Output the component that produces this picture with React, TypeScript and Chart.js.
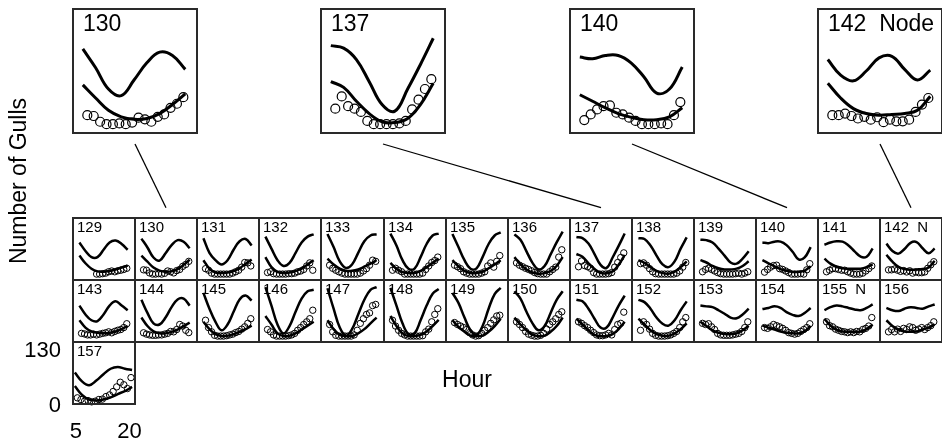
import React, { useEffect, useRef } from "react";
import { Chart, registerables } from "chart.js";

Chart.register(...registerables);

// ---------------- data ----------------
const HOURS = [5, 6, 7, 8, 9, 10, 11, 12, 13, 14, 15, 16, 17, 18, 19, 20];
const LINE_HOURS = [4.3, 6.3, 8.3, 10.3, 12.3, 14.3, 16.3, 18.3, 20.3];
const X_TICKS = [5, 20];
const Y_TICKS = [0, 130];

const PANEL_IDS = [
  129, 130, 131, 132, 133, 134, 135, 136, 137, 138, 139, 140, 141, 142,
  143, 144, 145, 146, 147, 148, 149, 150, 151, 152, 153, 154, 155, 156,
  157,
];
const NODE_PANELS = [142, 155];
const ENLARGED_PANELS = [130, 137, 140, 142];

// upper fitted curve per panel (at LINE_HOURS)
const UPPER_CURVES: number[][] = [
  [82, 60, 44, 44, 63, 82, 87, 78, 63],
  [92, 69, 43, 35, 54, 75, 88, 84, 67],
  [93, 55, 36, 25, 36, 63, 85, 91, 74],
  [97, 66, 36, 21, 29, 55, 82, 97, 103],
  [104, 70, 33, 16, 25, 55, 85, 100, 103],
  [105, 74, 36, 14, 14, 44, 78, 100, 105],
  [104, 70, 36, 14, 15, 44, 78, 100, 108],
  [103, 89, 59, 29, 12, 21, 51, 82, 110],
  [96, 93, 79, 52, 24, 16, 43, 73, 105],
  [93, 91, 74, 48, 25, 18, 33, 66, 95],
  [89, 88, 82, 66, 48, 30, 27, 40, 59],
  [82, 80, 84, 84, 75, 58, 38, 43, 70],
  [76, 82, 85, 84, 74, 59, 45, 45, 66],
  [79, 60, 53, 65, 81, 83, 67, 54, 66],
  [79, 56, 41, 39, 56, 79, 90, 79, 67],
  [94, 60, 33, 30, 48, 75, 95, 97, 79],
  [112, 71, 37, 15, 30, 63, 95, 105, 92],
  [127, 79, 30, 7, 26, 63, 97, 116, 120],
  [124, 71, 22, 1, 18, 56, 94, 120, 127],
  [125, 79, 33, 5, 7, 41, 79, 110, 122],
  [112, 86, 48, 15, 3, 26, 71, 109, 125],
  [116, 97, 63, 33, 15, 26, 60, 94, 116],
  [94, 90, 71, 45, 22, 22, 48, 79, 105],
  [94, 88, 71, 48, 32, 27, 41, 67, 90],
  [79, 77, 75, 67, 58, 48, 46, 56, 71],
  [70, 73, 77, 73, 62, 55, 52, 60, 73],
  [67, 75, 79, 77, 73, 69, 67, 73, 82],
  [73, 67, 65, 71, 75, 73, 71, 77, 82],
  [72, 51, 42, 53, 68, 81, 85, 81, 78],
];

// lower fitted curve per panel (at LINE_HOURS)
const LOWER_CURVES: number[][] = [
  [48, 28, 14, 7, 6, 8, 12, 17, 22],
  [48, 32, 17, 9, 6, 7, 13, 24, 37],
  [36, 14, 4, 2.5, 4, 8, 15, 27, 38],
  [44, 18, 6, 2.5, 4, 8, 14, 25, 36],
  [40, 25, 14, 8.5, 8.5, 12, 19, 27, 36],
  [29, 14, 5, 2.5, 2.5, 8, 18, 29, 40],
  [36, 20, 8, 2.5, 2.5, 6, 15, 25, 36],
  [44, 25, 12, 4, 1, 2.5, 8, 21, 44],
  [52, 45, 28, 13, 3, 2, 7, 24, 50],
  [36, 29, 18, 8, 2.5, 1, 6, 18, 33],
  [36, 30, 21, 15, 12, 12, 14, 21, 33],
  [36, 28, 20, 13, 8.5, 5.5, 5.5, 9, 20],
  [40, 27, 19, 15, 14, 14, 14, 18, 25],
  [50, 32, 19, 13, 11, 12, 13, 17, 34],
  [41, 22, 12, 8.5, 7, 8.5, 12, 18, 26],
  [48, 26, 12, 7, 7, 11, 17, 26, 35],
  [37, 18, 5, 0, 1, 5, 11, 18, 27],
  [52, 30, 7, 0, 1, 7, 17, 27, 37],
  [41, 18, 3, 0, 0, 7, 18, 33, 48],
  [52, 26, 7, 0, 0, 3, 12, 26, 42],
  [41, 24, 11, 1, 0, 1, 11, 26, 45],
  [48, 30, 15, 3, 0, 1, 11, 26, 48],
  [45, 30, 15, 3, 0, 0, 5, 18, 37],
  [45, 30, 15, 5, 1, 1, 7, 18, 33],
  [37, 26, 15, 8.5, 5.5, 5, 7, 15, 27],
  [27, 22, 17, 12, 8.5, 7, 7, 12, 26],
  [45, 27, 17, 12, 11, 11, 12, 18, 30],
  [41, 26, 17, 12, 11, 12, 17, 22, 30],
  [40, 19, 8, 5.5, 8, 13, 21, 28, 38],
];

// observed gull counts per panel (at HOURS)
const GULL_COUNTS: (number | null)[][] = [
  [null, null, null, null, null, 0, 0, 1, 2.5, 6, 8, 6, 8.5, 10, 12, 15],
  [11, 10, 3, 0, 0, 1, 0, 2, 8, 6, 3, 9, 12, 20, 25, 33],
  [14, 10, 2.5, 0, 0, 0, 0, 0, 0, 2.5, 6, 10, 18, 30, 29, 21],
  [4, 6, 1, 0, 0, 0, 0, 1, 1, 2.5, 6, 8, 12, 21, 29, 10],
  [23, 15, 10, 6, 2.5, 0, 0, 0, 0, 0, 2.5, 8, 14, 23, 36, 33],
  [10, 15, 10, 6, 0, 0, 0, 0, 0, 0, 2.5, 12, 21, 30, 35, 44],
  [23, 19, 14, 6, 2.5, 0, 0, 0, 0, 2.5, 6, 21, 29, 18, 33, 48],
  [29, 23, 19, 15, 12, 8.5, 4, 1, 0, 0, 0, 6, 12, 18, 44, 63],
  [19, 34, 22, 19, 15, 4, 0, 0, 0, 0, 1, 4, 18, 30, 43, 55],
  [27, 29, 23, 14, 6, 1, 0, 0, 0, 0, 0, 0, 2.5, 8, 18, 30],
  [6, 12, 15, 12, 8, 4, 1, 0, 0, 0, 0, 1, 2.5, 0, 2.5, 6],
  [5, 12, 18, 22, 23, 14, 12, 8, 4, 0, 0, 0, 1, 0, 11, 27],
  [6, 10, 14, 14, 12, 10, 10, 6, 2.5, 0, 0, 0, 2.5, 8, 14, 21],
  [11, 11, 13, 10, 7, 9, 5.5, 8.5, 2.5, 5.5, 3.5, 3.5, 5.5, 15, 24, 32],
  [7, 5.5, 3, 3, 5, 3, 5, 7, 8.5, 11, 8.5, 12, 15, 17, 22, 32],
  [8.5, 5, 3, 2, 2, 3, 3, 5, 7, 12, 11, 17, 30, 26, 15, 9],
  [41, 22, 11, 2, 0, 0, 0, 1, 3, 5, 9, 12, 18, 24, 33, 45],
  [17, 11, 3, 0, 0, 0, 0, 1, 3, 7, 15, 22, 30, 37, 45, 67],
  [30, 11, 2, 0, 0, 0, 0, 0, 3, 15, 33, 45, 56, 60, 79, 82],
  [41, 26, 15, 7, 3, 0, 0, 0, 0, 0, 1, 11, 18, 37, 56, 71],
  [35, 30, 26, 22, 17, 9, 3, 0, 1, 7, 15, 22, 33, 42, 52, 54],
  [37, 30, 22, 12, 5, 2, 0, 0, 2, 7, 18, 30, 37, 45, 56, 63],
  [37, 33, 27, 22, 15, 9, 3, 1, 1, 3, 7, 3, 17, 30, 33, 62],
  [15, 37, 30, 18, 7, 2, 0, 0, 0, 1, 3, 7, 12, 22, 37, 48],
  [33, 30, 32, 24, 17, 7, 3, 2, 2, 2, 3, 5, 7, 12, 22, 37],
  [22, 20, 24, 30, 27, 24, 20, 15, 9, 7, 5, 7, 12, 17, 22, 32],
  [37, 27, 24, 18, 15, 12, 11, 9, 11, 9, 12, 11, 17, 20, 26, 48],
  [11, 17, 11, 18, 12, 20, 17, 24, 22, 15, 18, 22, 17, 22, 27, 37],
  [12, 8, 4, 5.5, 2.5, 4, 8, 9, 15, 19, 27, 38, 49, 43, 34, 60],
];

// ---------------- layout / style ----------------
const FONT = '"Liberation Sans", Arial, Helvetica, sans-serif';
const X_MIN = 3.5;
const X_MAX = 21.4;
const Y_MIN = -5;
const Y_MAX = 135;

const GRID_LEFT = 72;
const GRID_TOP = 217;
const CELL = 62.1;
const COLS = 14;
const BIG_TOP = 8;
const BIG_SIZE = 126;
const BIG_STEP = CELL * 4;
const BORDER = 2;

const cellLeft = (c: number) => Math.round(GRID_LEFT + CELL * c);
const cellTop = (r: number) => Math.round(GRID_TOP + CELL * r);

type PanelProps = {
  index: number;
  left: number;
  top: number;
  width: number;
  height: number;
  big?: boolean;
  withAxes?: boolean;
};

function Panel({ index, left, top, width, height, big, withAxes }: PanelProps) {
  const ref = useRef<HTMLCanvasElement>(null);
  const axisLeft = withAxes ? left : 0;
  const axisBottom = withAxes ? 39 : 0;
  const extraRight = withAxes ? 30 : 0;
  const canvasLeft = withAxes ? 0 : left;
  const canvasW = axisLeft + width + extraRight;
  const canvasH = height + axisBottom;

  useEffect(() => {
    if (!ref.current) return;
    const lw = big ? 3 : 2.5;
    const r = big ? 4.5 : 3.2;
    const upper = LINE_HOURS.map((x, k) => ({ x, y: UPPER_CURVES[index][k] }));
    const lower = LINE_HOURS.map((x, k) => ({ x, y: LOWER_CURVES[index][k] }));
    const pts = HOURS.map((x, k) => ({ x, y: GULL_COUNTS[index][k] })).filter(
      (p) => p.y !== null
    );
    const lineDs = (data: any) => ({
      data,
      borderColor: "#000",
      borderWidth: lw,
      pointRadius: 0,
      tension: 0.4,
      fill: false,
      clip: false as any,
    });
    const hiddenScales: any = {
      x: { type: "linear", min: X_MIN, max: X_MAX, display: false },
      y: { type: "linear", min: Y_MIN, max: Y_MAX, display: false },
    };
    const axisScales: any = {
      x: {
        type: "linear",
        position: "bottom",
        min: X_MIN,
        max: X_MAX,
        afterBuildTicks: (s: any) => {
          s.ticks = X_TICKS.map((v) => ({ value: v }));
        },
        afterFit: (s: any) => {
          s.height = axisBottom;
          s.paddingLeft = 0;
          s.paddingRight = 0;
        },
        grid: { display: false, drawTicks: false },
        border: { display: false },
        ticks: {
          color: "#000",
          font: { family: FONT, size: 22 },
          padding: 14,
          labelOffset: -1.5,
          maxRotation: 0,
          autoSkip: false,
        },
      },
      y: {
        type: "linear",
        position: "left",
        min: Y_MIN,
        max: Y_MAX,
        afterBuildTicks: (s: any) => {
          s.ticks = Y_TICKS.map((v) => ({ value: v }));
        },
        afterFit: (s: any) => {
          s.width = axisLeft;
          s.paddingTop = 0;
          s.paddingBottom = 0;
        },
        grid: { display: false, drawTicks: false },
        border: { display: false },
        ticks: {
          color: "#000",
          font: { family: FONT, size: 22 },
          padding: 11,
          labelOffset: 3,
          autoSkip: false,
        },
      },
    };
    const chart = new Chart(ref.current, {
      type: "line",
      data: {
        datasets: [
          lineDs(upper),
          lineDs(lower),
          {
            data: pts as any,
            showLine: false,
            pointRadius: r,
            pointBorderWidth: big ? 1.2 : 1,
            pointBorderColor: "#000",
            pointBackgroundColor: "rgba(0,0,0,0)",
            clip: false as any,
          },
        ],
      },
      options: {
        animation: false,
        responsive: false,
        events: [],
        layout: { padding: { left: 0, top: 0, bottom: 0, right: extraRight } },
        plugins: { legend: { display: false }, tooltip: { enabled: false } },
        scales: withAxes ? axisScales : hiddenScales,
      },
    });
    return () => chart.destroy();
  }, [index, big, withAxes]);

  const id = PANEL_IDS[index];
  const label = NODE_PANELS.includes(id) ? `${id}  ${big ? "Node" : "N"}` : `${id}`;

  return (
    <>
      <canvas
        ref={ref}
        width={canvasW}
        height={canvasH}
        style={{ position: "absolute", left: canvasLeft, top, width: canvasW, height: canvasH }}
      />
      <div
        style={{
          position: "absolute",
          left,
          top,
          width,
          height,
          boxSizing: "border-box",
          border: `${BORDER}px solid #2a2a2a`,
          pointerEvents: "none",
        }}
      >
        <div
          style={{
            position: "absolute",
            left: big ? 9 : 3,
            top: big ? 2 : 0,
            fontFamily: FONT,
            fontSize: big ? 23 : 15,
            lineHeight: 1,
            whiteSpace: "pre",
            color: "#000",
          }}
        >
          {label}
        </div>
      </div>
    </>
  );
}

export default function App() {
  const small = PANEL_IDS.map((id, i) => {
    const c = i % COLS;
    const r = Math.floor(i / COLS);
    const left = cellLeft(c);
    const top = cellTop(r);
    const width = cellLeft(c + 1) - left + BORDER;
    const height = cellTop(r + 1) - top + BORDER;
    return { i, left, top, width, height, withAxes: id === 157 };
  });

  const bigs = ENLARGED_PANELS.map((id, j) => {
    const left = Math.round(GRID_LEFT + BIG_STEP * j);
    const i = PANEL_IDS.indexOf(id);
    const c = i % COLS;
    const sLeft = cellLeft(c);
    const sCenter = sLeft + (cellLeft(c + 1) - sLeft) / 2 + 1;
    return { i, left, top: BIG_TOP, size: BIG_SIZE, x1: left + BIG_SIZE / 2, x2: sCenter };
  });

  return (
    <div
      style={{
        position: "absolute",
        left: 0,
        top: 0,
        width: 942,
        height: 443,
        background: "#fff",
        overflow: "hidden",
        fontFamily: FONT,
      }}
    >
      {small.map((p) => (
        <Panel
          key={"s" + p.i}
          index={p.i}
          left={p.left}
          top={p.top}
          width={p.width}
          height={p.height}
          withAxes={p.withAxes}
        />
      ))}
      {bigs.map((b) => (
        <Panel
          key={"b" + b.i}
          index={b.i}
          left={b.left}
          top={b.top}
          width={b.size}
          height={b.size}
          big
        />
      ))}
      <svg
        width={942}
        height={443}
        style={{ position: "absolute", left: 0, top: 0, pointerEvents: "none" }}
      >
        {bigs.map((b) => (
          <line
            key={"l" + b.i}
            x1={b.x1}
            y1={144}
            x2={b.x2}
            y2={207.7}
            stroke="#000"
            strokeWidth={1.3}
          />
        ))}
      </svg>
      <div
        style={{
          position: "absolute",
          left: 18,
          top: 181,
          transform: "translate(-50%, -50%) rotate(-90deg)",
          fontSize: 23,
          lineHeight: 1,
          whiteSpace: "nowrap",
          color: "#000",
        }}
      >
        Number of Gulls
      </div>
      <div
        style={{
          position: "absolute",
          left: 467,
          top: 379,
          transform: "translate(-50%, -50%)",
          fontSize: 23,
          lineHeight: 1,
          whiteSpace: "nowrap",
          color: "#000",
        }}
      >
        Hour
      </div>
    </div>
  );
}
